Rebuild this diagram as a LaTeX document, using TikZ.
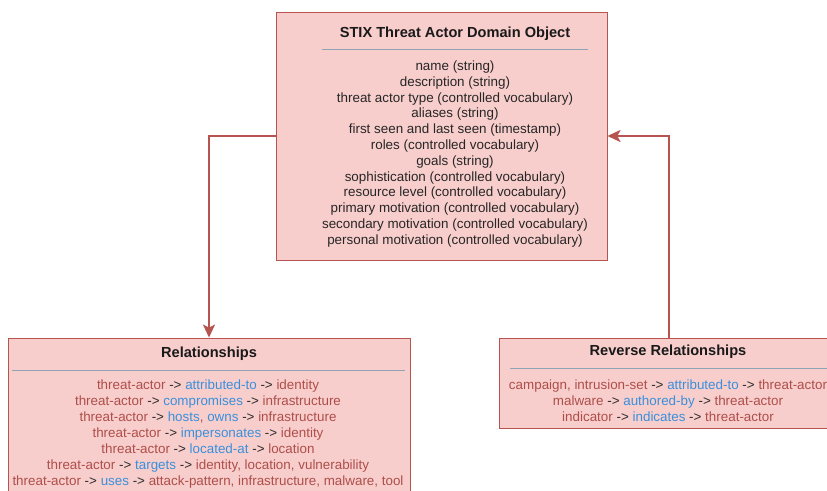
\documentclass[tikz,border=0pt]{standalone}
\usepackage{fontspec}
\setmainfont{Liberation Sans}
\usetikzlibrary{arrows.meta}

\definecolor{boxfill}{HTML}{F8CECC}
\definecolor{boxline}{HTML}{B85450}
\definecolor{objred}{HTML}{AE4E4A}
\definecolor{relblue}{HTML}{3A8FDB}
\definecolor{rulegray}{HTML}{8FA4B4}
\definecolor{arrgray}{HTML}{2B2B2B}

\newcommand{\rel}[1]{\textcolor{relblue}{#1}}
\newcommand{\arw}{\textcolor{arrgray}{->}}

\begin{document}
\begin{tikzpicture}[x=1pt,y=-1pt,
  box/.style={rectangle,draw=boxline,fill=boxfill,line width=0.9pt,inner sep=0pt},
  title/.style={font=\fontsize{14.6}{17}\selectfont\bfseries,text=black!90},
  body/.style={align=center,font=\fontsize{13.4}{15.8}\selectfont,text=black!85},
  rbody/.style={align=center,font=\fontsize{13.4}{16}\selectfont,text=objred},
  rule/.style={draw=rulegray,line width=0.9pt},
  conn/.style={draw=boxline,line width=1.7pt,-{Stealth[length=13pt,width=12pt,inset=3pt]}}]
\useasboundingbox (0,0) rectangle (827,490);
\clip (0,0) rectangle (827,490);

\node [box,minimum width=331pt,minimum height=248pt] (sdo) at(441.5,136){};
\node [title] (sdotitle) at(455,34){STIX Threat Actor Domain Object};
\draw[rule] (322,49) -- (588,49);
\node [body] (sdobody) at(455,154){name (string)\\
description (string)\\
threat actor type (controlled vocabulary)\\
aliases (string)\\
first seen and last seen (timestamp)\\
roles (controlled vocabulary)\\
goals (string)\\
sophistication (controlled vocabulary)\\
resource level (controlled vocabulary)\\
primary motivation (controlled vocabulary)\\
secondary motivation (controlled vocabulary)\\
personal motivation (controlled vocabulary)};

\node [box,minimum width=402pt,minimum height=170pt] (rel) at(209,423){};
\node [title] (reltitle) at(209,354){Relationships};
\draw[rule] (12,370) -- (405,370);
\node [rbody] (relbody) at(208,434){threat-actor \arw{} \rel{attributed-to} \arw{} identity\\
threat-actor \arw{} \rel{compromises} \arw{} infrastructure\\
threat-actor \arw{} \rel{hosts}, \rel{owns} \arw{} infrastructure\\
threat-actor \arw{} \rel{impersonates} \arw{} identity\\
threat-actor \arw{} \rel{located-at} \arw{} location\\
threat-actor \arw{} \rel{targets} \arw{} identity, location, vulnerability\\
threat-actor \arw{} \rel{uses} \arw{} attack-pattern, infrastructure, malware, tool};

\node [box,minimum width=339pt,minimum height=90pt] (rev) at(669,383){};
\node [title] (revtitle) at(668,352){Reverse Relationships};
\draw[rule] (510,368) -- (840,368);
\node [rbody] (revbody) at(668,401){campaign, intrusion-set \arw{} \rel{attributed-to} \arw{} threat-actor\\
malware \arw{} \rel{authored-by} \arw{} threat-actor\\
indicator \arw{} \rel{indicates} \arw{} threat-actor};

\draw[conn] (sdo.west) -| (rel.north);
\draw[conn] (rev.north) |- (sdo.east);
\end{tikzpicture}
\end{document}
